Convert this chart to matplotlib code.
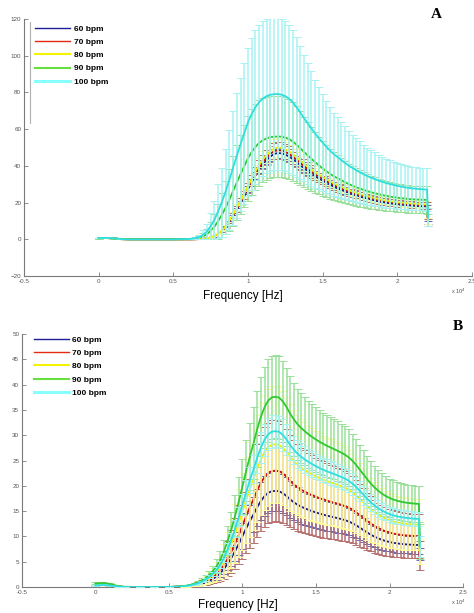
import numpy as np
import matplotlib.pyplot as plt
from matplotlib.lines import Line2D

plt.rcParams['font.family'] = ['Liberation Sans', 'DejaVu Sans']

# frequency bins in Hz (coarse on the flat start, fine where the curves rise)
freq_low = [0, 500, 1000, 1500, 2000, 3000, 4000, 5000]
freq_main = list(range(6000, 22001, 250))
freq_end = [22050]
freq = np.array(freq_low + freq_main + freq_end)

labels = ['60 bpm', '70 bpm', '80 bpm', '90 bpm', '100 bpm']
xticks = [-5000, 0, 5000, 10000, 15000, 20000, 25000]
xtick_labels = ['-0.5', '0', '0.5', '1', '1.5', '2', '2.5']

# ---------------- panel A : mean and std per heart rate ----------------
a60_mean = [0.6, 0.7, 0.5, 0.1, 0, 0, 0, 0,
            0, 0, 0.05, 0.14, 0.24, 0.47, 0.94, 1.6,
            2.8, 4.5, 6.6, 9.6, 12.7, 16.2, 19.7, 23.5,
            27.3, 31.0, 34.8, 38.1, 40.9, 43.2, 45.1, 46.5,
            47.0, 46.8, 46.1, 45.1, 43.7, 42.1, 40.4, 38.8,
            37.1, 35.7, 34.3, 33.1, 32.0, 30.8, 29.7, 28.7,
            27.7, 26.9, 26.1, 25.2, 24.4, 23.8, 23.2, 22.7,
            22.1, 21.6, 21.1, 20.6, 20.2, 19.9, 19.6, 19.3,
            19.0, 18.8, 18.7, 18.5, 18.3, 18.2, 18.0, 18.0,
            17.9, 9.2]
a60_std = [0.2, 0.2, 0.15, 0.05, 0, 0, 0, 0,
           0, 0, 0, 0.01, 0.01, 0.03, 0.05, 0.09,
           0.16, 0.25, 0.36, 0.53, 0.70, 0.90, 1.09, 1.30,
           1.51, 1.72, 1.92, 2.11, 2.26, 2.39, 2.50, 2.57,
           2.60, 2.59, 2.55, 2.50, 2.42, 2.33, 2.24, 2.15,
           2.05, 1.98, 1.90, 1.83, 1.77, 1.70, 1.64, 1.59,
           1.53, 1.49, 1.44, 1.40, 1.35, 1.32, 1.28, 1.25,
           1.22, 1.19, 1.17, 1.14, 1.12, 1.10, 1.08, 1.07,
           1.05, 1.04, 1.03, 1.02, 1.01, 1.01, 1.00, 0.99,
           0.99, 1.0]
a70_mean = [0.6, 0.7, 0.5, 0.1, 0, 0, 0, 0,
            0, 0, 0.05, 0.15, 0.24, 0.49, 0.97, 1.7,
            2.9, 4.6, 6.8, 9.9, 13.1, 16.7, 20.4, 24.3,
            28.1, 32.0, 35.9, 39.3, 42.2, 44.6, 46.6, 48.0,
            48.5, 48.3, 47.5, 46.6, 45.1, 43.4, 41.7, 40.0,
            38.3, 36.9, 35.4, 34.2, 33.0, 31.8, 30.7, 29.6,
            28.6, 27.7, 26.9, 26.0, 25.2, 24.6, 24.0, 23.4,
            22.8, 22.3, 21.8, 21.3, 20.9, 20.5, 20.2, 19.9,
            19.6, 19.4, 19.3, 19.1, 18.9, 18.8, 18.6, 18.5,
            18.4, 9.6]
a70_std = [0.2, 0.2, 0.15, 0.05, 0, 0, 0, 0,
           0, 0, 0, 0.01, 0.02, 0.05, 0.09, 0.16,
           0.27, 0.43, 0.63, 0.92, 1.22, 1.55, 1.89, 2.25,
           2.61, 2.97, 3.33, 3.65, 3.92, 4.14, 4.32, 4.46,
           4.5, 4.48, 4.41, 4.32, 4.19, 4.03, 3.87, 3.71,
           3.56, 3.42, 3.29, 3.17, 3.06, 2.95, 2.84, 2.75,
           2.66, 2.57, 2.50, 2.42, 2.34, 2.28, 2.22, 2.17,
           2.12, 2.07, 2.02, 1.98, 1.94, 1.90, 1.88, 1.85,
           1.82, 1.80, 1.79, 1.77, 1.76, 1.74, 1.73, 1.72,
           1.71, 1.5]
a80_mean = [0.6, 0.7, 0.5, 0.1, 0, 0, 0, 0,
            0, 0, 0.05, 0.15, 0.25, 0.5, 1.0, 1.75,
            3.0, 4.75, 7.0, 10.25, 13.5, 17.25, 21.0, 25.0,
            29.0, 33.0, 37.0, 40.5, 43.5, 46.0, 48.0, 49.5,
            50.0, 49.75, 49.0, 48.0, 46.5, 44.75, 43.0, 41.25,
            39.5, 38.0, 36.5, 35.25, 34.0, 32.75, 31.6, 30.5,
            29.5, 28.6, 27.75, 26.85, 26.0, 25.35, 24.7, 24.1,
            23.5, 22.95, 22.45, 21.95, 21.5, 21.15, 20.85, 20.55,
            20.25, 20.05, 19.85, 19.7, 19.5, 19.35, 19.2, 19.1,
            19.0, 10.0]
a80_std = [0.2, 0.2, 0.15, 0.05, 0, 0, 0, 0,
           0, 0, 0.01, 0.02, 0.03, 0.05, 0.1, 0.18,
           0.3, 0.48, 0.7, 1.03, 1.35, 1.73, 2.1, 2.5,
           2.9, 3.3, 3.7, 4.05, 4.35, 4.6, 4.8, 4.95,
           5.0, 4.98, 4.9, 4.8, 4.65, 4.48, 4.3, 4.13,
           3.95, 3.8, 3.65, 3.53, 3.4, 3.28, 3.16, 3.05,
           2.95, 2.86, 2.78, 2.69, 2.6, 2.54, 2.47, 2.41,
           2.35, 2.3, 2.25, 2.2, 2.15, 2.12, 2.09, 2.06,
           2.03, 2.01, 1.99, 1.97, 1.95, 1.94, 1.92, 1.91,
           1.9, 1.6]
a90_mean = [0.6, 0.7, 0.5, 0.1, 0, 0, 0, 0,
            0.1, 0.25, 0.5, 0.85, 1.6, 2.75, 4.7, 6.8,
            9.9, 13.3, 17.2, 21.5, 26.25, 30.9, 35.45, 39.8,
            44.2, 47.55, 50.4, 52.5, 54, 55, 55.65, 55.9,
            56, 55.9, 55.45, 54.6, 53.3, 51.6, 49.65, 47.6,
            45.75, 43.85, 42, 40.25, 38.65, 37.1, 35.65, 34.35,
            33.3, 32.2, 31.1, 30.1, 29.2, 28.4, 27.6, 26.9,
            26.25, 25.6, 25.1, 24.6, 24.1, 23.7, 23.3, 23,
            22.7, 22.4, 22.2, 21.95, 21.8, 21.7, 21.6, 21.5,
            21.5, 10.5]
a90_std = [0.2, 0.2, 0.15, 0.05, 0, 0, 0, 0,
           0.1, 0.25, 0.5, 0.85, 1.6, 2.75, 4.7, 6.8,
           9.5, 11.9, 14.5, 17, 19.05, 20.5, 21.45, 22.3,
           23.1, 23.25, 23.4, 23.2, 23, 22.6, 22.35, 22.1,
           22, 22.1, 22.15, 22, 21.6, 21, 20.15, 19.2,
           18.35, 17.45, 16.6, 15.75, 14.95, 14.2, 13.55, 12.95,
           12.5, 12, 11.5, 11, 10.6, 10.2, 9.9, 9.5,
           9.25, 9, 8.7, 8.5, 8.3, 8.1, 7.9, 7.8,
           7.7, 7.6, 7.5, 7.45, 7.4, 7.4, 7.4, 7.4,
           7.5, 3.5]
a100_mean = [0.7, 0.8, 0.6, 0.15, 0, 0, 0, 0,
             0.15, 0.4, 0.75, 1.3, 2.5, 4.25, 7.25, 10.5,
             15.25, 20.25, 26, 32.25, 39, 45.5, 51.75, 57.75,
             63.75, 68.25, 72, 74.75, 76.75, 78, 78.75, 79.05,
             79.15, 78.8, 78, 76.6, 74.6, 72, 69.15, 66.05,
             63.2, 60.4, 57.6, 55.1, 52.65, 50.45, 48.3, 46.4,
             44.8, 43.2, 41.65, 40.1, 38.85, 37.6, 36.5, 35.45,
             34.45, 33.55, 32.75, 32, 31.3, 30.65, 30.1, 29.6,
             29.15, 28.75, 28.35, 28, 27.75, 27.55, 27.35, 27.2,
             27.1, 12.0]
a100_std = [0.2, 0.2, 0.15, 0.05, 0, 0, 0, 0,
            0.15, 0.4, 0.75, 1.3, 2.5, 4.25, 7.25, 10.5,
            14.75, 18.75, 23, 27.25, 31, 34, 36.25, 38.25,
            40.25, 41.25, 42, 42.25, 42.25, 42, 41.75, 41.45,
            41.35, 41.2, 41, 40.4, 39.4, 38, 36.35, 34.45,
            32.8, 31.1, 29.4, 27.9, 26.35, 25.05, 23.7, 22.6,
            21.7, 20.8, 19.85, 18.9, 18.15, 17.4, 16.8, 16.15,
            15.55, 15.05, 14.55, 14.1, 13.7, 13.35, 13, 12.7,
            12.45, 12.25, 12.05, 11.9, 11.75, 11.65, 11.55, 11.5,
            11.5, 5.0]

# ---------------- panel B ----------------
b60_mean = [0.3, 0.4, 0.3, 0.1, 0, 0, 0, 0,
            0.1, 0.15, 0.23, 0.34, 0.48, 0.67, 0.91, 1.24,
            1.62, 2.09, 2.76, 3.61, 4.66, 5.8, 7.13, 8.55,
            10.07, 11.59, 13.02, 14.35, 15.77, 17.01, 17.96, 18.62,
            18.94, 19.0, 18.91, 18.53, 17.96, 17.29, 16.72, 16.25,
            15.87, 15.54, 15.24, 14.97, 14.73, 14.5, 14.29, 14.1,
            13.93, 13.76, 13.59, 13.4, 13.19, 12.92, 12.58, 12.16,
            11.69, 11.21, 10.74, 10.3, 9.92, 9.6, 9.31, 9.08,
            8.89, 8.74, 8.63, 8.53, 8.46, 8.4, 8.36, 8.32,
            8.3, 6.5]
b60_std = [0.1, 0.1, 0.1, 0.05, 0, 0, 0, 0,
           0.03, 0.05, 0.07, 0.1, 0.14, 0.2, 0.27, 0.36,
           0.48, 0.64, 0.84, 1.08, 1.36, 1.68, 2.0, 2.32,
           2.64, 2.94, 3.22, 3.46, 3.66, 3.82, 3.92, 3.98,
           4.0, 4.0, 3.98, 3.9, 3.78, 3.64, 3.52, 3.42,
           3.34, 3.27, 3.21, 3.15, 3.1, 3.05, 3.01, 2.97,
           2.93, 2.9, 2.86, 2.82, 2.78, 2.72, 2.65, 2.56,
           2.46, 2.36, 2.26, 2.17, 2.09, 2.02, 1.96, 1.91,
           1.87, 1.84, 1.82, 1.8, 1.78, 1.77, 1.76, 1.75,
           1.75, 1.2]
b70_mean = [0.3, 0.4, 0.3, 0.1, 0, 0, 0, 0,
            0.12, 0.18, 0.28, 0.41, 0.58, 0.81, 1.1, 1.5,
            1.96, 2.53, 3.34, 4.37, 5.64, 7.02, 8.63, 10.35,
            12.19, 14.03, 15.76, 17.37, 19.09, 20.59, 21.74, 22.54,
            22.93, 23.0, 22.89, 22.43, 21.74, 20.93, 20.24, 19.67,
            19.21, 18.81, 18.45, 18.12, 17.83, 17.55, 17.3, 17.07,
            16.86, 16.65, 16.45, 16.22, 15.96, 15.64, 15.23, 14.72,
            14.15, 13.57, 13.0, 12.47, 12.01, 11.62, 11.27, 10.99,
            10.76, 10.58, 10.44, 10.33, 10.24, 10.17, 10.12, 10.07,
            10.05, 6.2]
b70_std = [0.1, 0.1, 0.1, 0.05, 0, 0, 0, 0,
           0.08, 0.12, 0.18, 0.26, 0.36, 0.5, 0.68, 0.9,
           1.2, 1.6, 2.1, 2.7, 3.4, 4.2, 5.0, 5.8,
           6.6, 7.35, 8.05, 8.65, 9.15, 9.55, 9.8, 9.95,
           10.0, 10.0, 9.95, 9.75, 9.45, 9.1, 8.8, 8.55,
           8.35, 8.18, 8.02, 7.88, 7.75, 7.63, 7.52, 7.42,
           7.33, 7.24, 7.15, 7.05, 6.94, 6.8, 6.62, 6.4,
           6.15, 5.9, 5.65, 5.42, 5.22, 5.05, 4.9, 4.78,
           4.68, 4.6, 4.54, 4.49, 4.45, 4.42, 4.4, 4.38,
           4.37, 2.8]
b80_mean = [0.3, 0.4, 0.3, 0.1, 0, 0, 0, 0,
            0.14, 0.23, 0.34, 0.51, 0.71, 0.99, 1.35, 1.83,
            2.4, 3.1, 4.09, 5.36, 6.91, 8.6, 10.58, 12.69,
            14.95, 17.2, 19.32, 21.29, 23.41, 25.24, 26.65, 27.64,
            28.12, 28.2, 28.06, 27.5, 26.65, 25.66, 24.82, 24.11,
            23.55, 23.07, 22.62, 22.22, 21.86, 21.52, 21.21, 20.92,
            20.67, 20.42, 20.16, 19.88, 19.57, 19.18, 18.67, 18.05,
            17.34, 16.64, 15.93, 15.28, 14.72, 14.24, 13.82, 13.48,
            13.2, 12.97, 12.8, 12.66, 12.55, 12.46, 12.41, 12.35,
            12.32, 7.0]
b80_std = [0.1, 0.1, 0.1, 0.05, 0, 0, 0, 0,
           0.09, 0.14, 0.21, 0.3, 0.42, 0.58, 0.79, 1.04,
           1.39, 1.86, 2.44, 3.13, 3.94, 4.87, 5.8, 6.73,
           7.66, 8.53, 9.34, 10.03, 10.61, 11.08, 11.37, 11.54,
           11.6, 11.6, 11.54, 11.31, 10.96, 10.56, 10.21, 9.92,
           9.69, 9.49, 9.3, 9.14, 8.99, 8.85, 8.72, 8.61,
           8.5, 8.4, 8.29, 8.18, 8.05, 7.89, 7.68, 7.42,
           7.13, 6.84, 6.55, 6.29, 6.06, 5.86, 5.68, 5.54,
           5.43, 5.34, 5.27, 5.21, 5.16, 5.13, 5.1, 5.08,
           5.07, 2.5]
b90_mean = [0.7, 0.8, 0.6, 0.2, 0.05, 0, 0, 0,
            0.19, 0.3, 0.45, 0.68, 0.94, 1.32, 1.8, 2.44,
            3.2, 4.14, 5.45, 7.14, 9.21, 11.47, 14.1, 16.92,
            19.93, 22.94, 25.76, 28.39, 31.21, 33.65, 35.53, 36.85,
            37.49, 37.6, 37.41, 36.66, 35.53, 34.22, 33.09, 32.15,
            31.4, 30.76, 30.16, 29.63, 29.14, 28.69, 28.28, 27.9,
            27.56, 27.22, 26.88, 26.51, 26.09, 25.57, 24.89, 24.06,
            23.12, 22.18, 21.24, 20.38, 19.63, 18.99, 18.42, 17.97,
            17.6, 17.3, 17.07, 16.88, 16.73, 16.62, 16.54, 16.47,
            16.43, 9.0]
b90_std = [0.2, 0.2, 0.15, 0.05, 0, 0, 0, 0,
           0.07, 0.1, 0.15, 0.21, 0.3, 0.41, 0.56, 0.74,
           0.98, 1.31, 1.72, 2.21, 2.79, 3.44, 4.1, 4.76,
           5.41, 6.03, 6.6, 7.09, 7.5, 7.83, 8.04, 8.16,
           8.2, 8.2, 8.16, 8.0, 7.75, 7.46, 7.22, 7.01,
           6.85, 6.71, 6.58, 6.46, 6.36, 6.26, 6.17, 6.08,
           6.01, 5.94, 5.86, 5.78, 5.69, 5.58, 5.43, 5.25,
           5.04, 4.84, 4.63, 4.44, 4.28, 4.14, 4.02, 3.92,
           3.84, 3.77, 3.72, 3.68, 3.65, 3.62, 3.61, 3.59,
           3.58, 3.5]
b100_mean = [0.3, 0.4, 0.3, 0.1, 0, 0, 0, 0,
             0.15, 0.25, 0.37, 0.55, 0.77, 1.08, 1.48, 2.0,
             2.62, 3.39, 4.47, 5.85, 7.55, 9.39, 11.55, 13.86,
             16.32, 18.79, 21.1, 23.25, 25.56, 27.57, 29.11, 30.18,
             30.71, 30.8, 30.65, 30.03, 29.11, 28.03, 27.1, 26.33,
             25.72, 25.19, 24.7, 24.27, 23.87, 23.5, 23.16, 22.85,
             22.58, 22.3, 22.02, 21.71, 21.38, 20.94, 20.39, 19.71,
             18.94, 18.17, 17.4, 16.69, 16.08, 15.55, 15.09, 14.72,
             14.41, 14.17, 13.98, 13.83, 13.71, 13.61, 13.55, 13.49,
             13.46, 8.0]
b100_std = [0.1, 0.1, 0.1, 0.05, 0, 0, 0, 0,
            0.03, 0.04, 0.06, 0.08, 0.12, 0.16, 0.22, 0.29,
            0.38, 0.51, 0.67, 0.86, 1.09, 1.34, 1.6, 1.86,
            2.11, 2.35, 2.58, 2.77, 2.93, 3.06, 3.14, 3.18,
            3.2, 3.2, 3.18, 3.12, 3.02, 2.91, 2.82, 2.74,
            2.67, 2.62, 2.57, 2.52, 2.48, 2.44, 2.41, 2.37,
            2.35, 2.32, 2.29, 2.26, 2.22, 2.18, 2.12, 2.05,
            1.97, 1.89, 1.81, 1.73, 1.67, 1.62, 1.57, 1.53,
            1.5, 1.47, 1.45, 1.44, 1.42, 1.41, 1.41, 1.4,
            1.4, 2.0]

a_means = [a60_mean, a70_mean, a80_mean, a90_mean, a100_mean]
a_stds = [a60_std, a70_std, a80_std, a90_std, a100_std]
b_means = [b60_mean, b70_mean, b80_mean, b90_mean, b100_mean]
b_stds = [b60_std, b70_std, b80_std, b90_std, b100_std]

# colours (MATLAB-ish)
line_colors = ['#1c1c8a', '#cc1010', '#eeee00', '#30c830', '#30dede']
bar_colors = ['#6a6ab0', '#b87070', '#ffffa0', '#9ae09a', '#a8f2f2']
cap_colors = ['#3c3c96', '#a04848', '#e8e860', '#60cc60', '#60e0e0']
legend_colors = ['#1e1e96', '#e22a12', '#f4f400', '#66e040', '#88ffff']
legend_widths = [1.0, 1.0, 1.5, 1.5, 2.2]
axis_grey = '#7a7a7a'


def draw_panel(ax, means, stds, yticks, legend_anchor):
    for i in range(len(means)):
        line, caps, bars = ax.errorbar(freq, means[i], yerr=stds[i], color=line_colors[i],
                                       ecolor=bar_colors[i], lw=1.3, elinewidth=1.1,
                                       capsize=2.6, capthick=0.7, zorder=2 + i)
        for c in caps:
            c.set_color(cap_colors[i])
    ax.set_xlim(-5000, 25000)
    ax.set_ylim(yticks[0], yticks[-1])
    ax.set_xticks(xticks)
    ax.set_xticklabels(xtick_labels)
    ax.set_yticks(yticks)
    for side in ['top', 'right']:
        ax.spines[side].set_visible(False)
    for side in ['left', 'bottom']:
        ax.spines[side].set_color(axis_grey)
        ax.spines[side].set_linewidth(0.8)
    ax.tick_params(direction='in', length=3, width=0.6, colors=axis_grey,
                   labelsize=4.5, labelcolor='#555555', pad=2)
    handles = [Line2D([], [], color=c, lw=w) for c, w in zip(legend_colors, legend_widths)]
    ax.legend(handles, labels, loc='upper left', bbox_to_anchor=legend_anchor,
              frameon=False, prop={'weight': 'bold', 'size': 6},
              handlelength=4.2, handletextpad=0.4, labelspacing=0.65,
              borderpad=0, borderaxespad=0)


fig = plt.figure(figsize=(4.74, 6.13), dpi=100)
axA = fig.add_axes([0.0506, 0.5497, 0.9451, 0.4193])
axB = fig.add_axes([0.0464, 0.0424, 0.9304, 0.4127])

draw_panel(axA, a_means, a_stds, list(range(-20, 121, 20)), (0.025, 0.977))
draw_panel(axB, b_means, b_stds, list(range(0, 51, 5)), (0.027, 0.992))

# leftover edge of the legend box in panel A
axA.plot([0.0134, 0.0134], [0.595, 0.988], transform=axA.transAxes,
         color='#b0b0b0', lw=0.8, clip_on=False)

fig.text(0.513, 0.517, 'Frequency [Hz]', fontsize=8.5, ha='center', va='center')
fig.text(0.502, 0.0125, 'Frequency [Hz]', fontsize=8.5, ha='center', va='center')
fig.text(0.968, 0.525, r'x 10$^4$', fontsize=4, ha='center', va='center', color='#555555')
fig.text(0.966, 0.018, r'x 10$^4$', fontsize=4, ha='center', va='center', color='#555555')

fig.text(0.920, 0.977, 'A', fontsize=11, fontweight='bold', family='Liberation Serif',
         ha='center', va='center')
fig.text(0.966, 0.4666, 'B', fontsize=11, fontweight='bold', family='Liberation Serif',
         ha='center', va='center')

fig.savefig('out.png', dpi=100)
